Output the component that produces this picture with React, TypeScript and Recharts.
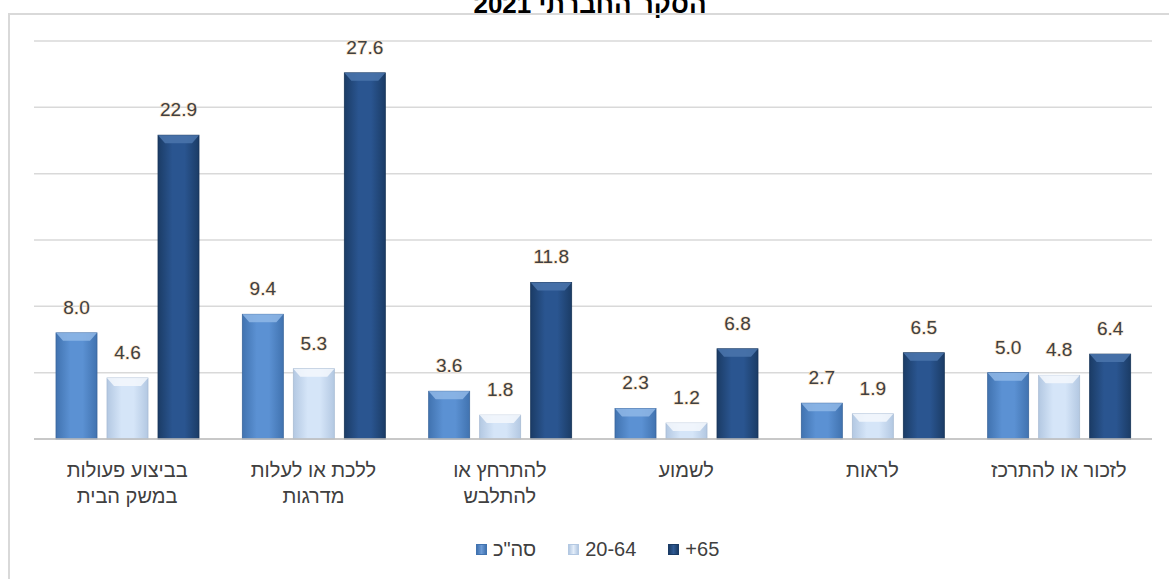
import React from "react";
import { BarChart, Bar, XAxis, YAxis, CartesianGrid, LabelList } from "recharts";

const categoryLines: string[][] = [
  ["בביצוע פעולות", "במשק הבית"],
  ["ללכת או לעלות", "מדרגות"],
  ["להתרחץ או", "להתלבש"],
  ["לשמוע"],
  ["לראות"],
  ["לזכור או להתרכז"],
];
const totalValues = [8.0, 9.4, 3.6, 2.3, 2.7, 5.0];
const age2064Values = [4.6, 5.3, 1.8, 1.2, 1.9, 4.8];
const age65Values = [22.9, 27.6, 11.8, 6.8, 6.5, 6.4];
const seriesNames = ['סה"כ', "20-64", "65+"];
const yTicks = [0, 5, 10, 15, 20, 25, 30];
const titleText = "הסקר החברתי 2021";

const data = categoryLines.map((lines, i) => ({
  category: lines.join(" "),
  total: totalValues[i],
  a2064: age2064Values[i],
  a65: age65Values[i],
}));

const FONT = "'Liberation Sans', Arial, sans-serif";

const palettes = [
  { id: "gTotal", edge: "#4173b0", mid: "#5b91d3", top: "#8fb7e6", stroke: "#3a659c" },
  { id: "g2064", edge: "#b3c8e2", mid: "#d5e5f8", top: "#f4f8fd", stroke: "#a9bcd4" },
  { id: "g65", edge: "#1b3c66", mid: "#2a5590", top: "#4b76ad", stroke: "#173457" },
];

const makeShape = (p: typeof palettes[number]) => (props: any) => {
  const { x, y, width, height } = props;
  if (!height || height <= 0) return <g />;
  const b = Math.min(8, height / 2);
  const inset = Math.min(7, width / 4);
  return (
    <g>
      <rect x={x} y={y} width={width} height={height} fill={`url(#${p.id})`} stroke={p.stroke} strokeWidth={0.8} />
      <polygon
        points={`${x},${y} ${x + width},${y} ${x + width - inset},${y + b} ${x + inset},${y + b}`}
        fill={p.top}
        opacity={0.85}
      />
    </g>
  );
};

const renderLabel = (props: any) => {
  const { x, y, width, value } = props;
  return (
    <text
      x={Number(x) + Number(width) / 2}
      y={Number(y) - 19}
      textAnchor="middle"
      fontFamily={FONT}
      fontSize={19}
      fill="#404040"
      stroke="#fbe6cc"
      strokeWidth={1.5}
      paintOrder="stroke"
    >
      {Number(value).toFixed(1)}
    </text>
  );
};

const renderTick = (props: any) => {
  const { x, y, payload } = props;
  const idx = payload && typeof payload.index === "number" ? payload.index : props.index;
  const lines = categoryLines[idx] || [String(payload.value)];
  return (
    <g>
      {lines.map((ln, k) => (
        <text
          key={k}
          x={x}
          y={Number(y) + 38 + k * 26}
          textAnchor="middle"
          fontFamily={FONT}
          fontSize={20}
          fill="#404040"
        >
          {ln}
        </text>
      ))}
    </g>
  );
};

const legendColors = [
  ["#4173b0", "#6d9bd6"],
  ["#b3c8e2", "#e3edf9"],
  ["#1b3c66", "#2f5a94"],
];

export default function App() {
  return (
    <div
      style={{
        position: "relative",
        width: 1169,
        height: 579,
        overflow: "hidden",
        background: "#ffffff",
        fontFamily: FONT,
      }}
    >
      <style>{"body{margin:0;overflow:hidden;}"}</style>
      <div
        dir="rtl"
        style={{
          position: "absolute",
          top: -9,
          left: 0,
          width: 1180,
          textAlign: "center",
          fontWeight: "bold",
          fontSize: 26,
          lineHeight: "26px",
          color: "#000",
        }}
      >
        {titleText}
      </div>
      <div
        style={{
          position: "absolute",
          left: 8,
          top: 13,
          width: 1200,
          height: 620,
          border: "2px solid #d9d9d9",
          boxSizing: "border-box",
        }}
      />
      <div style={{ position: "absolute", left: 0, top: 0 }}>
        <BarChart
          width={1169}
          height={579}
          data={data}
          margin={{ top: 41, right: 17, bottom: 80, left: 34 }}
          barSize={41}
          barGap={10}
        >
          <defs>
            {palettes.map((p) => (
              <linearGradient key={p.id} id={p.id} x1="0" y1="0" x2="1" y2="0">
                <stop offset="0%" stopColor={p.edge} />
                <stop offset="35%" stopColor={p.mid} />
                <stop offset="65%" stopColor={p.mid} />
                <stop offset="100%" stopColor={p.edge} />
              </linearGradient>
            ))}
          </defs>
          <CartesianGrid vertical={false} stroke="#d9d9d9" strokeWidth={1.5} />
          <XAxis
            dataKey="category"
            height={60}
            interval={0}
            tickLine={false}
            tickSize={0}
            tickMargin={0}
            axisLine={{ stroke: "#bfbfbf", strokeWidth: 1.5 }}
            tick={renderTick}
          />
          <YAxis hide domain={[0, 30]} ticks={yTicks} />
          <Bar dataKey="total" name={seriesNames[0]} shape={makeShape(palettes[0])} isAnimationActive={false}>
            <LabelList dataKey="total" content={renderLabel} />
          </Bar>
          <Bar dataKey="a2064" name={seriesNames[1]} shape={makeShape(palettes[1])} isAnimationActive={false}>
            <LabelList dataKey="a2064" content={renderLabel} />
          </Bar>
          <Bar dataKey="a65" name={seriesNames[2]} shape={makeShape(palettes[2])} isAnimationActive={false}>
            <LabelList dataKey="a65" content={renderLabel} />
          </Bar>
        </BarChart>
      </div>
      <div
        style={{
          position: "absolute",
          left: 476,
          top: 538,
          display: "flex",
          alignItems: "center",
          fontSize: 20,
          lineHeight: "22px",
          color: "#404040",
        }}
      >
        {seriesNames.map((name, i) => (
          <div key={name} style={{ display: "flex", alignItems: "center", marginRight: i < 2 ? 32 : 0 }}>
            <span
              style={{
                display: "inline-block",
                width: 11,
                height: 11,
                marginRight: 6,
                background: `linear-gradient(90deg, ${legendColors[i][0]}, ${legendColors[i][1]} 50%, ${legendColors[i][0]})`,
                border: "1px solid " + legendColors[i][0],
                boxSizing: "border-box",
              }}
            />
            <span dir="rtl">{name}</span>
          </div>
        ))}
      </div>
    </div>
  );
}
